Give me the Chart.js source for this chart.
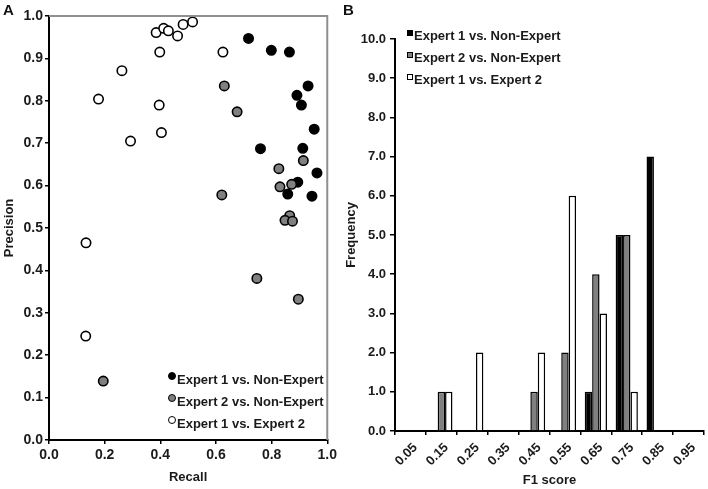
<!DOCTYPE html>
<html>
<head>
<meta charset="utf-8">
<script src="https://cdn.jsdelivr.net/npm/chart.js@4/dist/chart.umd.min.js"></script>
<style>
  body { margin: 0; background: #fff; font-family: "Liberation Sans", Arial, Helvetica, sans-serif; }
  #wrap { position: relative; width: 708px; height: 489px; overflow: hidden; }
  .panel { position: absolute; top: 0; height: 489px; }
  .tag { position: absolute; font-weight: bold; font-size: 15px; color: #111; }
  .legend { position: absolute; font-weight: bold; font-size: 13px; color: #1a1a1a; }
  .legend .row { height: 22px; line-height: 22px; white-space: nowrap; }
  .legend .mk { display: inline-block; vertical-align: 4px; margin-right: 1px; border: 1.5px solid #000; box-sizing: border-box; }
</style>
</head>
<body>
<div id="wrap">
  <div class="panel" style="left:0;width:340px"><canvas id="scatterChart"></canvas></div>
  <div class="panel" style="left:340px;width:368px"><canvas id="histChart"></canvas></div>
  <div class="tag" style="left:3px;top:1px">A</div>
  <div class="tag" style="left:343px;top:1px">B</div>
  <div class="legend" id="legendA" style="left:168px;top:369px"></div>
  <div class="legend" id="legendB" style="left:407px;top:25px"></div>
</div>
<script>
// series names
const seriesNames = ['Expert 1 vs. Non-Expert', 'Expert 2 vs. Non-Expert', 'Expert 1 vs. Expert 2'];
const seriesColors = ['#000000', '#808080', '#ffffff'];

// Panel A: recall / precision per comparison
const e1NonExpertRecall    = [0.717, 0.799, 0.864, 0.931, 0.891, 0.907, 0.953, 0.760, 0.912, 0.963, 0.894, 0.858, 0.945];
const e1NonExpertPrecision = [0.947, 0.919, 0.915, 0.835, 0.813, 0.790, 0.733, 0.687, 0.688, 0.630, 0.608, 0.580, 0.575];

const e2NonExpertRecall    = [0.630, 0.676, 0.826, 0.914, 0.830, 0.872, 0.621, 0.865, 0.848, 0.875, 0.747, 0.896, 0.195];
const e2NonExpertPrecision = [0.835, 0.774, 0.640, 0.659, 0.597, 0.603, 0.578, 0.529, 0.518, 0.516, 0.381, 0.332, 0.139];

const e1e2Recall    = [0.385, 0.412, 0.429, 0.462, 0.482, 0.516, 0.398, 0.625, 0.262, 0.178, 0.396, 0.404, 0.293, 0.133, 0.132];
const e1e2Precision = [0.961, 0.971, 0.965, 0.953, 0.980, 0.986, 0.915, 0.915, 0.871, 0.804, 0.790, 0.725, 0.705, 0.465, 0.245];

// Panel B: F1 score histogram
const f1Bins = ['0.05', '0.15', '0.25', '0.35', '0.45', '0.55', '0.65', '0.75', '0.85', '0.95'];
const e1NonExpertFreq = [0, 0, 0, 0, 0, 0, 1, 5, 7, 0];
const e2NonExpertFreq = [0, 1, 0, 0, 1, 2, 4, 5, 0, 0];
const e1e2Freq        = [0, 1, 2, 0, 2, 6, 3, 1, 0, 0];

const FONT = '"Liberation Sans", Arial, Helvetica, sans-serif';
const TXT = '#1a1a1a';

function toPoints(xs, ys) {
    return xs.map((x, i) => ({ x: x, y: ys[i] }));
}

// gray frame on top and right of panel A
const framePlugin = {
    id: 'frame',
    afterDraw(chart) {
        const { ctx, chartArea: a } = chart;
        ctx.save();
        ctx.strokeStyle = '#8f8f8f';
        ctx.lineWidth = 2;
        ctx.beginPath();
        ctx.moveTo(a.left, a.top);
        ctx.lineTo(a.right, a.top);
        ctx.lineTo(a.right, a.bottom);
        ctx.stroke();
        ctx.restore();
    }
};

function makeScatter() {
    const ctx = document.getElementById('scatterChart').getContext('2d');
    const pts = [
        toPoints(e1NonExpertRecall, e1NonExpertPrecision),
        toPoints(e2NonExpertRecall, e2NonExpertPrecision),
        toPoints(e1e2Recall, e1e2Precision)
    ];
    const order = [1, 0, 2];
    new Chart(ctx, {
        type: 'scatter',
        data: {
            datasets: pts.map((d, i) => ({
                label: seriesNames[i],
                data: d,
                backgroundColor: seriesColors[i],
                borderColor: '#000',
                borderWidth: 1.6,
                pointRadius: 4.7,
                order: order[i]
            }))
        },
        options: {
            responsive: true,
            maintainAspectRatio: false,
            animation: false,
            layout: { padding: { top: 16, right: 12, left: 0, bottom: 0 } },
            plugins: { legend: { display: false }, tooltip: { enabled: false } },
            scales: {
                x: {
                    min: 0, max: 1,
                    afterFit: s => { s.height = 49; },
                    border: { color: '#000', width: 2 },
                    grid: { drawOnChartArea: false, tickLength: 4, color: '#000', lineWidth: 1.5 },
                    ticks: { stepSize: 0.2, padding: 3, color: TXT, font: { family: FONT, size: 14, weight: 'bold' },
                             callback: v => v.toFixed(1) },
                    title: { display: true, text: 'Recall', color: TXT, padding: { top: 0, bottom: 4 },
                             font: { family: FONT, size: 13, weight: 'bold' } }
                },
                y: {
                    min: 0, max: 1,
                    afterFit: s => { s.width = 49; },
                    border: { color: '#000', width: 2 },
                    grid: { drawOnChartArea: false, tickLength: 4, color: '#000', lineWidth: 1.5 },
                    ticks: { stepSize: 0.1, padding: 2, color: TXT, font: { family: FONT, size: 14, weight: 'bold' },
                             callback: v => v.toFixed(1) },
                    title: { display: true, text: 'Precision', color: TXT, padding: { top: 2, bottom: 0 },
                             font: { family: FONT, size: 13, weight: 'bold' } }
                }
            }
        },
        plugins: [framePlugin]
    });
}

function makeHistogram() {
    const ctx = document.getElementById('histChart').getContext('2d');
    const freqs = [e1NonExpertFreq, e2NonExpertFreq, e1e2Freq];
    new Chart(ctx, {
        type: 'bar',
        data: {
            labels: f1Bins,
            datasets: freqs.map((d, i) => ({
                label: seriesNames[i],
                data: d,
                backgroundColor: seriesColors[i],
                borderColor: '#000',
                borderWidth: 1.5,
                borderSkipped: 'bottom',
                categoryPercentage: 0.72,
                barPercentage: 1.0
            }))
        },
        options: {
            responsive: true,
            maintainAspectRatio: false,
            animation: false,
            layout: { padding: { top: 39, right: 4, left: 0, bottom: 0 } },
            plugins: { legend: { display: false }, tooltip: { enabled: false } },
            scales: {
                x: {
                    afterFit: s => { s.height = 58; },
                    border: { color: '#000', width: 2 },
                    grid: { drawOnChartArea: false, tickLength: 4, color: '#000', lineWidth: 1.5 },
                    ticks: { minRotation: 45, maxRotation: 45, autoSkip: false, padding: 5, labelOffset: 5, color: TXT,
                             font: { family: FONT, size: 13, weight: 'bold' } },
                    title: { display: true, text: 'F1 score', color: TXT, padding: { top: 0, bottom: 1 },
                             font: { family: FONT, size: 13, weight: 'bold' } }
                },
                y: {
                    min: 0, max: 10,
                    afterFit: s => { s.width = 55; },
                    border: { color: '#000', width: 2 },
                    grid: { drawOnChartArea: false, tickLength: 5, color: '#000', lineWidth: 1.5 },
                    ticks: { stepSize: 1, padding: 4, color: TXT, font: { family: FONT, size: 13, weight: 'bold' },
                             callback: v => v.toFixed(1) },
                    title: { display: true, text: 'Frequency', color: TXT, padding: { top: 4, bottom: 0 },
                             font: { family: FONT, size: 13, weight: 'bold' } }
                }
            }
        }
    });
}

// legends drawn as html text, from the same series names/colours
function buildLegend(id, shape) {
    const box = document.getElementById(id);
    seriesNames.forEach((name, i) => {
        const row = document.createElement('div');
        row.className = 'row';
        const mk = document.createElement('span');
        mk.className = 'mk';
        mk.style.background = seriesColors[i];
        if (shape === 'circle') {
            mk.style.width = '8px'; mk.style.height = '8px'; mk.style.borderRadius = '50%';
        } else {
            mk.style.width = '6px'; mk.style.height = '6px';
        }
        row.appendChild(mk);
        row.appendChild(document.createTextNode(name));
        box.appendChild(row);
    });
}

buildLegend('legendA', 'circle');
buildLegend('legendB', 'square');
makeScatter();
makeHistogram();
</script>
</body>
</html>
